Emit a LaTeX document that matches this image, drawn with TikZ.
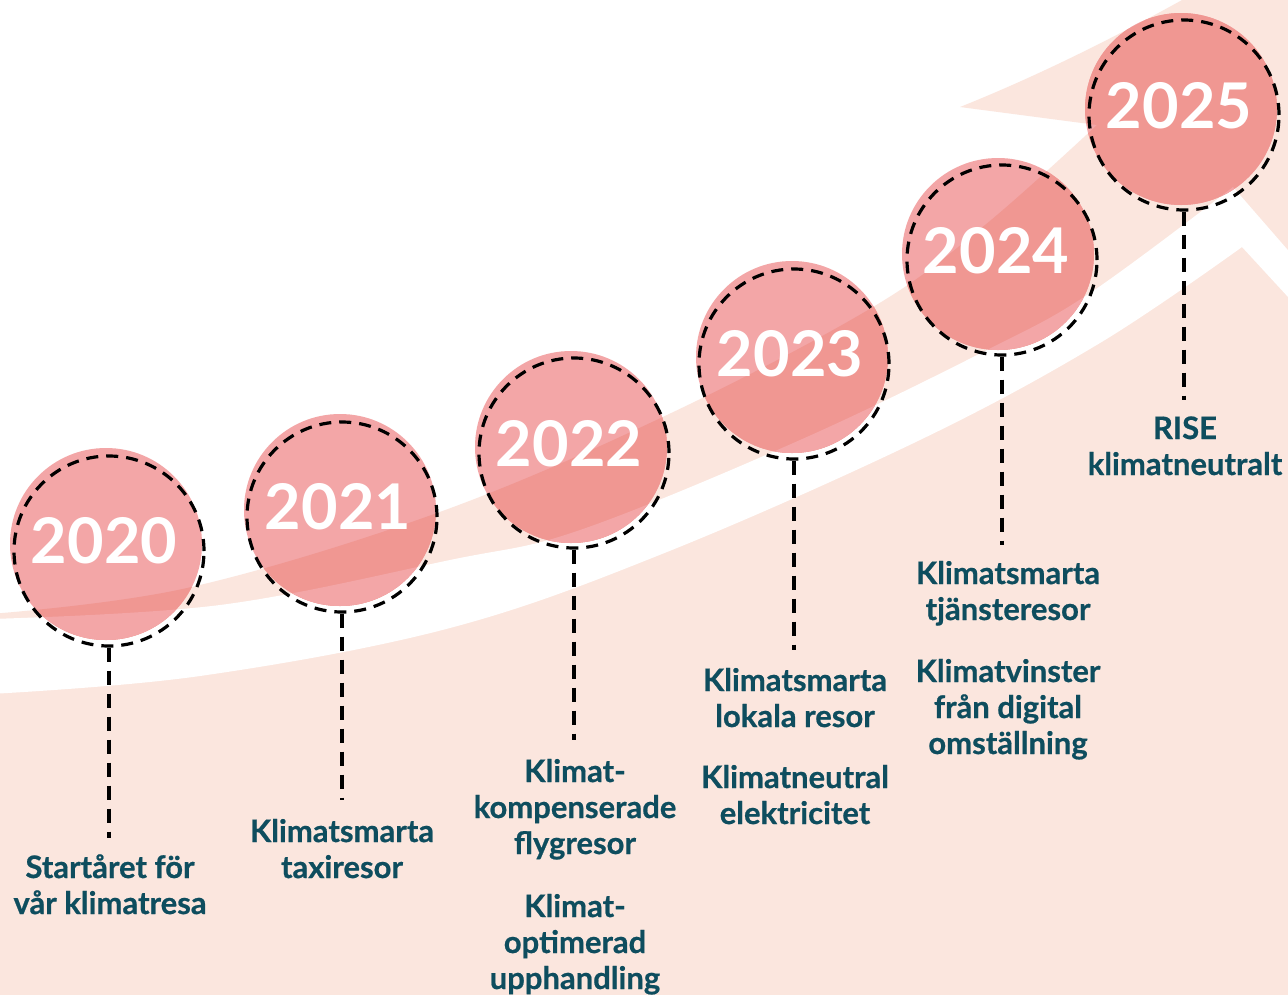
\documentclass[tikz,border=0pt]{standalone}
\usepackage{fontspec}
\setmainfont{Lato}
\newfontfamily\lblfont{Lato}[BoldFeatures={FakeBold=0.6}]
\definecolor{peach}{RGB}{251,230,222}
\definecolor{disclight}{RGB}{243,166,167}
\definecolor{discdark}{RGB}{240,151,146}
\definecolor{txt}{RGB}{14,77,94}
\def\peachpath{plot[smooth,tension=0.6] coordinates {(-10,614) (187,588) (437,513) (667,415) (873,307) (985,225) (1097,125)} -- (960,107) .. controls (1040,75) and (1120,35) .. (1200,-10) -- (1300,-10) -- (1300,1010) -- (-10,1010) -- cycle}
\def\whitepath{plot[smooth,tension=0.6] coordinates {(-10,619) (220,605) (450,560) (580,530) (800,440) (987,350) (1090,293) (1233,187)} -- (1300,264) -- (1300,310) -- (1242,247) -- plot[smooth,tension=0.6] coordinates {(1242,247) (1100,343) (920,440) (667,552) (450,628) (200,676) (-10,694)} -- cycle}
\begin{document}
\begin{tikzpicture}[x=1pt,y=-1pt,
  yeartxt/.style={text=white, font=\fontsize{63}{63}\selectfont\bfseries, anchor=base, inner sep=0pt},
  lbl/.style={text=txt, font=\fontsize{31}{36}\selectfont\lblfont\bfseries, align=center, anchor=base, inner sep=0pt},
  disc/.style={circle, fill=disclight, minimum size=192pt, inner sep=0pt},
  ring/.style={circle, draw=black, line width=3.2pt, dash pattern=on 12pt off 8pt, minimum size=190pt, inner sep=0pt},
  stem/.style={draw=black, line width=3.2pt, dash pattern=on 14pt off 9pt}]
\useasboundingbox (0,0) rectangle (1288,994);
\fill[white] (0,0) rectangle (1288,994);
\fill[peach] \peachpath;
\fill[white] \whitepath;
% discs
\foreach \n/\x/\y in {a/106/544, b/340/510, c/571/447, d/792/357, e/998/254, f/1181/109}{
  \node[disc] (disc\n) at (\x,\y) {};
  \begin{scope}
    \clip (\x,\y) circle[radius=96pt];
    \fill[discdark] \peachpath;
    \fill[disclight] \whitepath;
  \end{scope}
}
% rings
\node[ring] (r2020) at (109,551) {};
\node[ring] (r2021) at (342,517) {};
\node[ring] (r2022) at (574,453) {};
\node[ring] (r2023) at (794,364) {};
\node[ring] (r2024) at (1002,260) {};
\node[ring] (r2025) at (1184,115) {};
% stem ends
\coordinate (e2020) at (109,838);
\coordinate (e2021) at (342,800);
\coordinate (e2022) at (574,740);
\coordinate (e2023) at (794,650);
\coordinate (e2024) at (1002,545);
\coordinate (e2025) at (1184,400);
\foreach \y in {2020,2021,2022,2023,2024,2025}{
  \draw[stem] (r\y.south) -- (e\y);
}
% years
\node[yeartxt] (y2020) at (104,563) {2020};
\node[yeartxt] (y2021) at (338,529) {2021};
\node[yeartxt] (y2022) at (569,466) {2022};
\node[yeartxt] (y2023) at (790,376) {2023};
\node[yeartxt] (y2024) at (996,273) {2024};
\node[yeartxt] (y2025) at (1179,128) {2025};
% labels (anchor = baseline of last line)
\node[lbl] (l2020) at (110,914) {Startåret för\\vår klimatresa};
\node[lbl] (l2021) at (342,878) {Klimatsmarta\\taxiresor};
\node[lbl] (l2022a) at (575,854) {Klimat-\\kompenserade\\flygresor};
\node[lbl] (l2022b) at (575,989) {Klimat-\\optimerad\\upphandling};
\node[lbl] (l2023a) at (795,727) {Klimatsmarta\\lokala resor};
\node[lbl] (l2023b) at (795,824) {Klimatneutral\\elektricitet};
\node[lbl] (l2024a) at (1008,620) {Klimatsmarta\\tjänsteresor};
\node[lbl] (l2024b) at (1008,754) {Klimatvinster\\från digital\\omställning};
\node[lbl] (l2025) at (1185,475) {RISE\\klimatneutralt};
\end{tikzpicture}
\end{document}
